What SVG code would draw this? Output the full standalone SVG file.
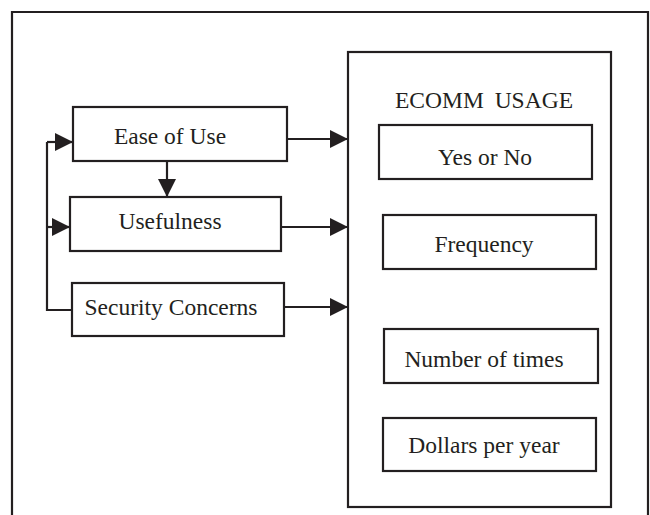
<svg xmlns="http://www.w3.org/2000/svg" width="650" height="515" viewBox="0 0 650 515">
<defs>
<marker id="ah" markerUnits="userSpaceOnUse" markerWidth="18" markerHeight="18" refX="18" refY="9" orient="auto">
<path d="M0,0 L18,9 L0,18 Z" fill="#231f20"/>
</marker>
</defs>
<style>
.box{fill:#fff;stroke:#231f20;stroke-width:2.2}
.ln{fill:none;stroke:#231f20;stroke-width:2.2}
text{font-family:"Liberation Serif","Times New Roman",serif;font-size:23.5px;fill:#231f20;text-anchor:middle}
</style>
<rect width="650" height="515" fill="#fff"/>
<path class="ln" d="M12,515 V12 H648 V515"/>
<g id="ecomm">
<rect class="box" x="348" y="52" width="263" height="455"/>
<text x="484" y="108" word-spacing="5">ECOMM USAGE</text>
</g>
<g id="yesno"><rect class="box" x="379" y="125" width="213" height="54"/><text x="485" y="165">Yes or No</text></g>
<g id="frequency"><rect class="box" x="383" y="215" width="213" height="54"/><text x="484" y="252">Frequency</text></g>
<g id="number"><rect class="box" x="384" y="329" width="214" height="54"/><text x="484" y="367">Number of times</text></g>
<g id="dollars"><rect class="box" x="383" y="418" width="213" height="53"/><text x="484" y="453">Dollars per year</text></g>
<g id="ease"><rect class="box" x="73" y="107" width="214" height="54"/><text x="170" y="144">Ease of Use</text></g>
<g id="usefulness"><rect class="box" x="70" y="197" width="211" height="54"/><text x="170" y="229">Usefulness</text></g>
<g id="security"><rect class="box" x="72" y="283" width="212" height="53"/><text x="171" y="315">Security Concerns</text></g>
<g id="connectors">
<path class="ln" d="M72,310 H47 V142"/>
<path class="ln" d="M47,142 H73" marker-end="url(#ah)"/>
<path class="ln" d="M47,227 H70" marker-end="url(#ah)"/>
<path class="ln" d="M167,161 V197" marker-end="url(#ah)"/>
<path class="ln" d="M287,139 H348" marker-end="url(#ah)"/>
<path class="ln" d="M281,227 H348" marker-end="url(#ah)"/>
<path class="ln" d="M284,307 H348" marker-end="url(#ah)"/>
</g>
</svg>
